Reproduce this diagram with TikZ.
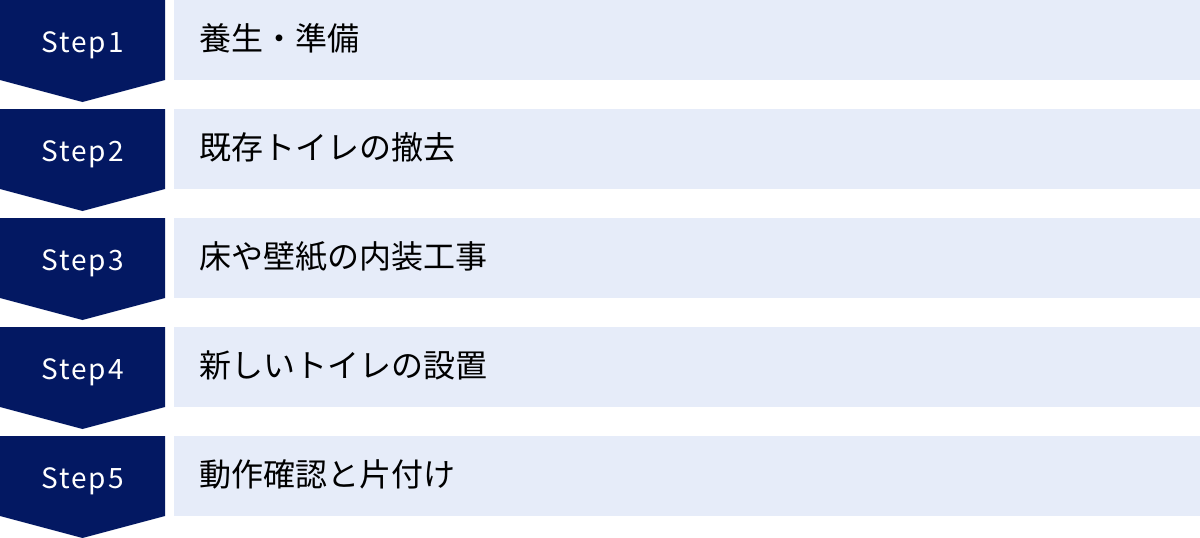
\documentclass[tikz,border=0pt]{standalone}
\usepackage{fontspec}
\setmainfont{Noto Sans CJK JP}
\newfontfamily\stepfont[LetterSpace=7]{Noto Sans CJK JP}
\definecolor{navy}{HTML}{031862}
\definecolor{pale}{HTML}{E6ECF9}
\begin{document}
\begin{tikzpicture}[x=1pt,y=-1pt,
  steplabel/.style={text=white,font=\stepfont\fontsize{28}{28}\selectfont,anchor=base,inner sep=0pt},
  tasklabel/.style={text=black,font=\fontsize{32}{32}\selectfont,anchor=base west,inner sep=0pt}]
\useasboundingbox (0,0) rectangle (1200,538);
\foreach \i/\t in {0/養生・準備,1/既存トイレの撤去,2/床や壁紙の内装工事,3/新しいトイレの設置,4/動作確認と片付け}{
  \pgfmathsetmacro{\yy}{109*\i}
  \pgfmathtruncatemacro{\n}{\i+1}
  \fill[navy] (0,\yy) -- (165,\yy) -- (165,\yy+80) -- (82.5,\yy+102) -- (0,\yy+80) -- cycle;
  \fill[pale] (174,\yy) rectangle (1200,\yy+80);
  \node[steplabel] (s\n) at (82.5,\yy+52) {Step\n};
  \node[tasklabel] (t\n) at (199,\yy+50) {\t};
}
\end{tikzpicture}
\end{document}
